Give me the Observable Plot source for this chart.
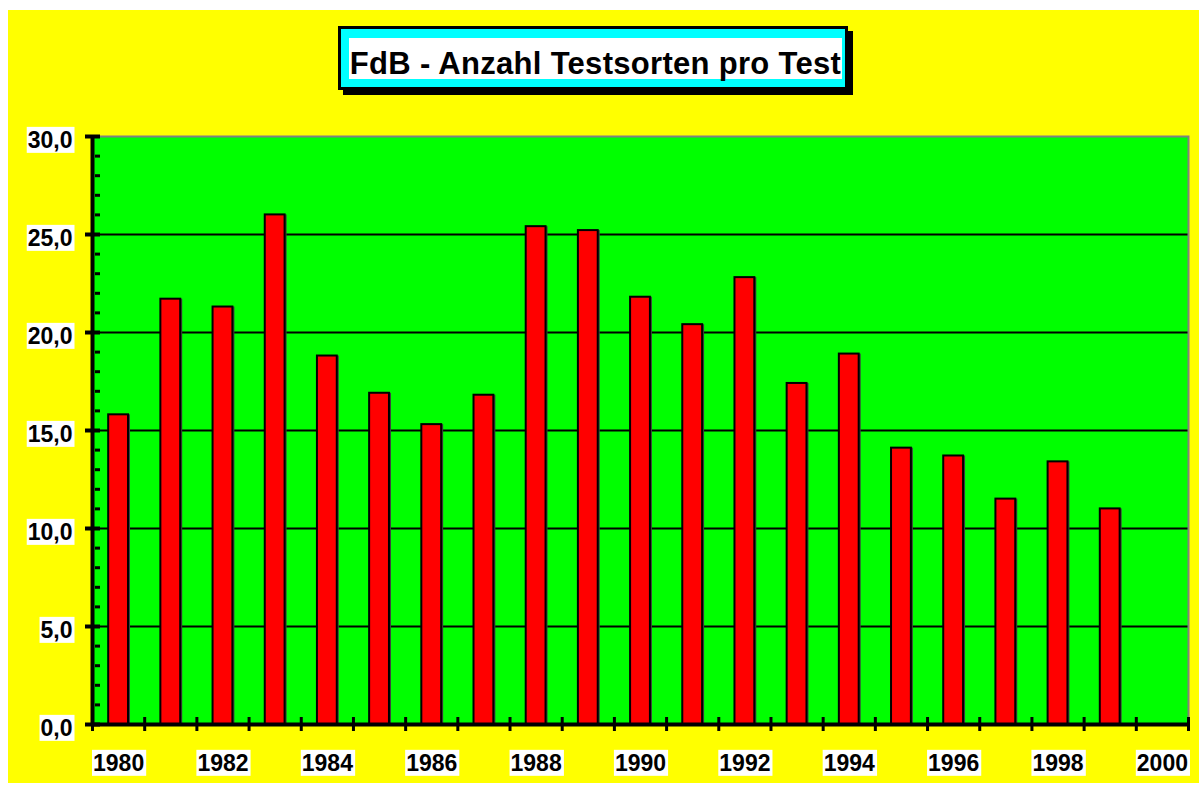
<!DOCTYPE html>
<html><head><meta charset="utf-8">
<script src="https://cdn.jsdelivr.net/npm/d3@7"></script>
<script src="https://cdn.jsdelivr.net/npm/@observablehq/plot@0.6"></script>
<style>
body{margin:0;background:#fff;width:1199px;height:785px;position:relative;overflow:hidden;font-family:"Liberation Sans",Arial,sans-serif;}
#bg{position:absolute;left:8px;top:10px;width:1191px;height:773px;background:#ffff00;}
#chart{position:absolute;left:8px;top:10px;}
#titlebox{position:absolute;left:338px;top:26px;width:510px;height:64px;box-sizing:border-box;border:3px solid #000;background:#00ffff;box-shadow:5px 5px 0 #000;}
#titlebg{position:absolute;left:349px;top:38px;width:493px;height:41px;background:#fff;}
#title{position:absolute;left:349px;top:49px;width:493px;text-align:center;font-size:31px;line-height:30px;font-weight:bold;letter-spacing:0.3px;color:#000;white-space:nowrap;}
</style></head><body>
<div id="bg"></div>
<div id="chart"></div>
<div id="titlebox"></div>
<div id="titlebg"></div>
<div id="title">FdB - Anzahl Testsorten pro Test</div>
<script>
const years = [1980,1981,1982,1983,1984,1985,1986,1987,1988,1989,1990,1991,1992,1993,1994,1995,1996,1997,1998,1999];
const values = [15.8,21.7,21.3,26.0,18.8,16.9,15.3,16.8,25.4,25.2,21.8,20.4,22.8,17.4,18.9,14.1,13.7,11.5,13.4,11.0];
const xTickLabels = [1980,1982,1984,1986,1988,1990,1992,1994,1996,1998,2000];
const xCategoryEdges = [1979.5,1980.5,1981.5,1982.5,1983.5,1984.5,1985.5,1986.5,1987.5,1988.5,1989.5,1990.5,1991.5,1992.5,1993.5,1994.5,1995.5,1996.5,1997.5,1998.5,1999.5,2000.5];
const yTickLabels = [0,5,10,15,20,25,30];
const yGridLines = [5,10,15,20,25];
const yMinorTicks = [0,1,2,3,4,5,6,7,8,9,10,11,12,13,14,15,16,17,18,19,20,21,22,23,24,25,26,27,28,29,30];

const data = years.map((year, i) => ({year, value: values[i]}));
const halfBar = 0.19;
const fmt = d => d.toFixed(1).replace(".", ",");

const plot = Plot.plot({
  width: 1191,
  height: 773,
  marginLeft: 84,
  marginRight: 11,
  marginTop: 126,
  marginBottom: 59,
  style: {background: "transparent", fontFamily: "'Liberation Sans', Arial, sans-serif", fontSize: "23px", fontWeight: "bold", color: "#000"},
  x: {domain: [1979.5, 2000.5], label: null},
  y: {domain: [0, 30], label: null},
  marks: [
    Plot.frame({fill: "#00ff00"}),
    Plot.ruleY(yGridLines, {stroke: "#000", strokeWidth: 2}),
    Plot.rectY(data, {x1: d => d.year - halfBar, x2: d => d.year + halfBar, y: "value", fill: "#404040", dx: 2}),
    Plot.rectY(data, {x1: d => d.year - halfBar, x2: d => d.year + halfBar, y: "value", fill: "#ff0000", stroke: "#000", strokeWidth: 2}),
    Plot.frame({stroke: "#808080", strokeWidth: 2}),
    Plot.ruleX([1979.5], {stroke: "#000", strokeWidth: 4}),
    Plot.ruleY([0], {stroke: "#000", strokeWidth: 4}),
    Plot.axisY({ticks: yMinorTicks, tickSize: 5, dx: 8, fill: "none", stroke: "#000", strokeWidth: 3, label: null}),
    Plot.axisY({ticks: yTickLabels, tickSize: 15, dx: 8, fill: "none", stroke: "#000", strokeWidth: 4, label: null}),
    Plot.axisY({ticks: yTickLabels, tickSize: 0, tickPadding: 20, dy: 4, tickFormat: fmt, fill: "#000", label: null}),
    Plot.axisX({ticks: xCategoryEdges, tickSize: 14, dy: -7, fill: "none", stroke: "#000", strokeWidth: 3, label: null}),
    Plot.axisX({ticks: xTickLabels, tickSize: 0, tickPadding: 30, tickFormat: d => String(d), fill: "#000", label: null})
  ]
});
document.getElementById("chart").append(plot);

// white boxes behind tick labels
plot.querySelectorAll('g[aria-label="x-axis tick label"] text, g[aria-label="y-axis tick label"] text').forEach(t => {
  if (!t.textContent) return;
  const b = t.getBBox();
  const r = document.createElementNS("http://www.w3.org/2000/svg", "rect");
  r.setAttribute("x", b.x - 1);
  r.setAttribute("y", b.y);
  r.setAttribute("width", b.width + 3);
  r.setAttribute("height", b.height);
  r.setAttribute("fill", "#fff");
  r.setAttribute("stroke", "none");
  if (t.getAttribute("transform")) r.setAttribute("transform", t.getAttribute("transform"));
  t.parentNode.insertBefore(r, t);
});
</script>
</body></html>
